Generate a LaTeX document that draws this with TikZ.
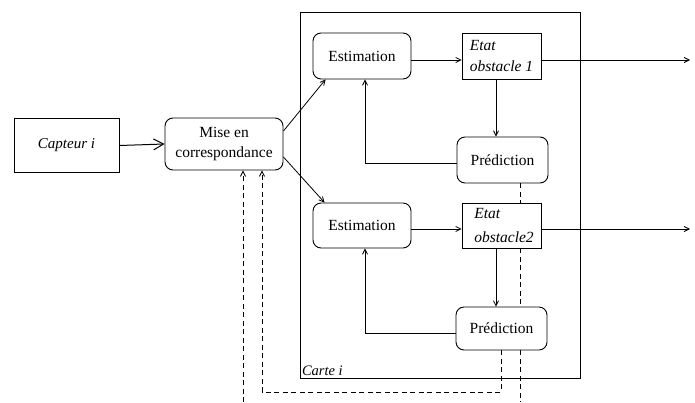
\documentclass[tikz,border=0pt]{standalone}
\usepackage{fontspec}
\setmainfont{Liberation Serif}
\usetikzlibrary{arrows.meta}
\begin{document}
\begin{tikzpicture}[x=1pt,y=-1pt,
  every node/.style={font=\fontsize{15.5}{20}\selectfont},
  rbox/.style={draw,line width=0.9pt,rounded corners=8pt,align=center,inner sep=1pt},
  sbox/.style={draw,line width=0.9pt,align=left,inner sep=1pt},
  conn/.style={line width=0.8pt,-{Straight Barb[length=5pt,width=5pt]}},
  dconn/.style={line width=0.9pt,dash pattern=on 5pt off 3.5pt},
  line width=0.8pt]
\useasboundingbox (0,0) rectangle (695,402);
% frame
\node[draw,line width=0.8pt,minimum width=280pt,minimum height=366pt,inner sep=0pt] (carte) at (440,195) {};
\node[anchor=south west,inner sep=1pt,font=\fontsize{14.5}{16}\selectfont\itshape] (cartelbl) at ([xshift=1pt,yshift=1pt]carte.south west) {Carte i};
% nodes
\node[sbox,minimum width=105pt,minimum height=54pt,font=\fontsize{15}{18}\selectfont\itshape] (cap) at (66.5,145.5) {Capteur i};
\node[rbox,minimum width=118pt,minimum height=52pt] (mise) at (224,144) {Mise en\\correspondance};
\node[rbox,minimum width=98pt,minimum height=46pt] (est1) at (362,56) {Estimation};
\node[sbox,minimum width=79pt,minimum height=46pt,font=\fontsize{15.5}{21}\selectfont\itshape] (etat1) at (501.5,56) {Etat\\obstacle 1};
\node[rbox,minimum width=91pt,minimum height=46pt] (pred1) at (502.5,160) {Prédiction};
\node[rbox,minimum width=98pt,minimum height=45pt] (est2) at (362,225.5) {Estimation};
\node[sbox,minimum width=79pt,minimum height=45pt,font=\fontsize{15.5}{24}\selectfont\itshape] (etat2) at (501.5,225.5) {\hspace*{5pt}Etat\\\hspace*{5pt}obstacle2};
\node[rbox,minimum width=91pt,minimum height=43pt] (pred2) at (501.5,328.5) {Prédiction};
\coordinate (out1) at (690,60);
\coordinate (out2) at (690,229);
\coordinate (d2) at (262,392);
\coordinate (d3) at (520,402);
\coordinate (d4) at (243,402);
% dashed lines (behind)
\draw[dconn] ([xshift=17.5pt]pred1.south) -- ([xshift=17.5pt]pred1.south |- etat2.north);
\draw[dconn] ([xshift=18.5pt]etat2.south) -- ([xshift=18.5pt]etat2.south |- pred2.north);
\draw[dconn] ([xshift=18.5pt]pred2.south) -- (d3);
\draw[dconn,-{Straight Barb[length=5pt,width=5pt]}] ([xshift=-0.5pt]pred2.south) |- (d2) -- ([xshift=38pt]mise.south);
\draw[dconn,-{Straight Barb[length=5pt,width=5pt]}] (d4) -- ([xshift=19pt]mise.south);
% connectors
\draw[line width=1pt,-{Straight Barb[length=10pt,width=11pt]}] (cap.east) -- (mise.west);
\draw[conn] ([yshift=13pt]mise.east) -- ([xshift=13pt]est1.south west);
\draw[conn] ([yshift=-13pt]mise.east) -- ([xshift=12pt]est2.north west);
\draw[conn] ([yshift=-4pt]est1.east) -- ([yshift=-4pt]etat1.west);
\draw[conn] ([yshift=-4pt]etat1.east) -- (out1);
\draw[conn] ([xshift=-5.5pt]etat1.south) -- ([xshift=-5.5pt]etat1.south |- pred1.north);
\draw[conn] ([yshift=-3pt]pred1.west) -| ([xshift=3pt]est1.south);
\draw[conn] ([yshift=-3.5pt]est2.east) -- ([yshift=-3.5pt]etat2.west);
\draw[conn] ([yshift=-3.5pt]etat2.east) -- (out2);
\draw[conn] ([xshift=-5.5pt]etat2.south) -- ([xshift=-5.5pt]etat2.south |- pred2.north);
\draw[conn] ([yshift=-4.5pt]pred2.west) -| ([xshift=3pt]est2.south);
\end{tikzpicture}
\end{document}
